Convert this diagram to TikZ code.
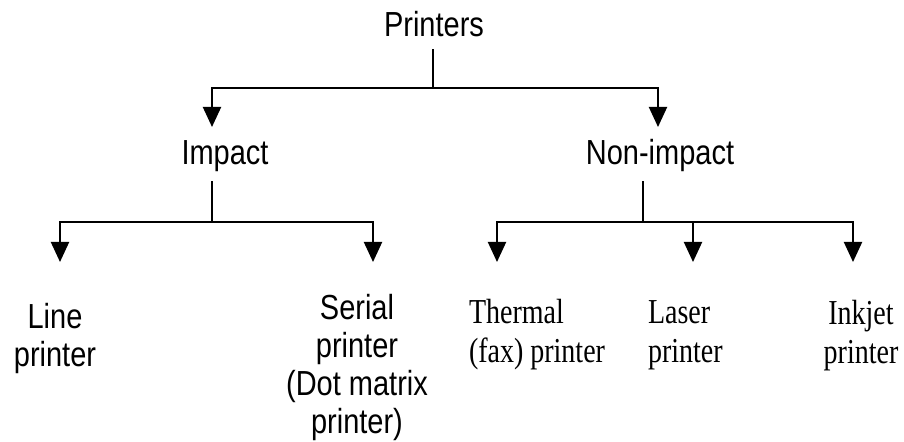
\documentclass[tikz,border=0pt]{standalone}
\usepackage{fontspec}
\setmainfont{Liberation Serif}[FakeStretch=0.8]
\setsansfont{Liberation Sans}[FakeStretch=0.833]
\usetikzlibrary{arrows.meta}
\tikzset{
  sf/.style={font=\sffamily\fontsize{17.4}{19}\selectfont, inner sep=0pt, align=center},
  rm/.style={font=\rmfamily\fontsize{17.5}{19.5}\selectfont, inner sep=0pt},
}
\begin{document}
\begin{tikzpicture}[>={Triangle[length=10pt,width=9pt]}, x=0.5pt, y=-0.5pt, line width=1pt]
\useasboundingbox (0,0) rectangle (904,442);
% labels
\node[sf, anchor=base] (printers) at (434,37) {Printers};
\node[sf, anchor=base] (impact) at (225,165) {Impact};
\node[sf, anchor=base] (nonimpact) at (660,165) {Non-impact};
\node[sf, anchor=north] (line) at (55,302) {Line\\printer};
\node[sf, anchor=north] (serial) at (357,293) {Serial\\printer\\(Dot matrix\\printer)};
\node[rm, anchor=north west, align=left] (thermal) at (468,298) {Thermal\\(fax) printer};
\node[rm, anchor=north west, align=left] (laser) at (647,300) {Laser\\printer};
\node[rm, anchor=north, align=center] (inkjet) at (861,299) {Inkjet\\printer};
% junctions and arrow tips
\coordinate (j0) at (433,88);
\coordinate (j1) at (212,222);
\coordinate (j2) at (643,222);
\coordinate (impact-in) at (212,127);
\coordinate (nonimpact-in) at (658,127);
\coordinate (line-in) at (60,262);
\coordinate (serial-in) at (373,262);
\coordinate (thermal-in) at (497,262);
\coordinate (laser-in) at (693,262);
\coordinate (inkjet-in) at (853,262);
% connectors
\draw[shorten <=5.5pt] (printers.south -| j0) -- (j0);
\draw[->] (j0) -| (impact-in);
\draw[->] (j0) -| (nonimpact-in);
\draw[shorten <=4pt] (impact.south -| j1) -- (j1);
\draw[->] (j1) -| (line-in);
\draw[->] (j1) -| (serial-in);
\draw[shorten <=4pt] (nonimpact.south -| j2) -- (j2);
\draw[->] (j2) -| (thermal-in);
\draw[->] (j2) -| (laser-in);
\draw[->] (j2) -| (inkjet-in);
\end{tikzpicture}
\end{document}
